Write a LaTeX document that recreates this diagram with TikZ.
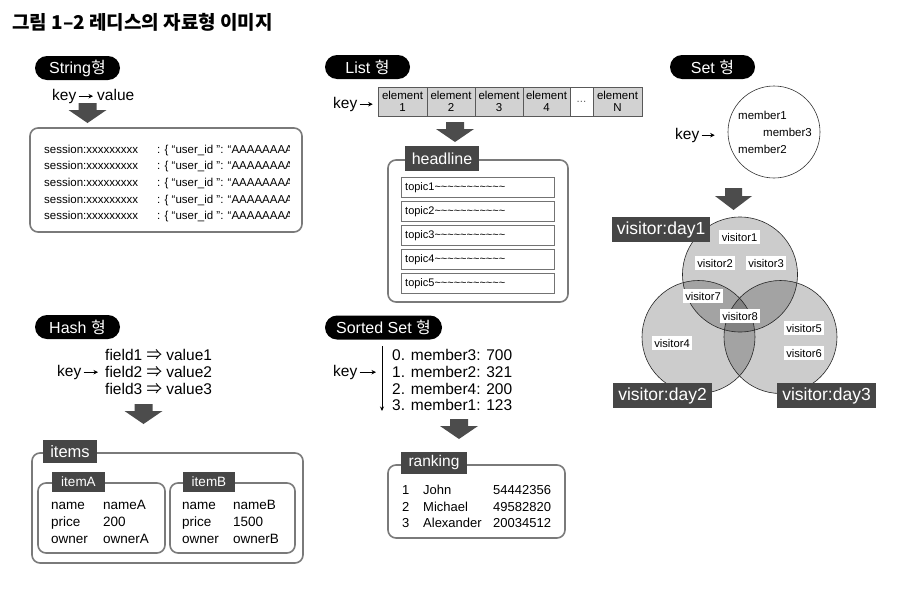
\documentclass[tikz,border=0pt]{standalone}
\usepackage{fontspec}
\setmainfont{Liberation Sans}
\newfontfamily\kr{Noto Sans CJK KR}
\usetikzlibrary{arrows.meta}
\definecolor{framegray}{HTML}{7A7A7A}
\definecolor{tagdark}{HTML}{464646}
\definecolor{elemgray}{HTML}{D2D2D2}
\definecolor{arrowgray}{HTML}{4C4C4C}
\newcommand\myfs[1]{\fontsize{#1}{#1}\selectfont}
\tikzset{
  pill/.style={fill=black, text=white, rounded corners=12pt, minimum height=24pt, inner sep=0pt, font=\myfs{16}},
  tagbox/.style={fill=tagdark, text=white, inner sep=0pt},
  frame/.style={draw=framegray, line width=1.6pt, rounded corners=8pt, inner sep=0pt},
  txt/.style={inner sep=0pt, text height=11.2pt, text depth=0pt, font=\myfs{15.5}},
  keyarrow/.style={line width=0.9pt, -{Stealth[length=4.5pt,width=4.5pt]}, transform canvas={yshift=-1.2pt}},
  elem/.style={draw=black!65, fill=elemgray, line width=0.6pt, minimum height=29pt, inner sep=0pt, align=center, font={\fontsize{11.5}{12.5}\selectfont}},
  topicbox/.style={draw=black!55, fill=white, line width=0.6pt, minimum width=153pt, minimum height=20pt, inner sep=0pt},
  small/.style={inner sep=0pt, text height=7.9pt, text depth=0pt, font=\myfs{11}},
  s115/.style={inner sep=0pt, text height=8.3pt, text depth=0pt, font=\myfs{11.5}},
  s135/.style={inner sep=0pt, text height=9.7pt, text depth=0pt, font=\myfs{13.5}},
  s13/.style={inner sep=0pt, text height=9.4pt, text depth=0pt, font=\myfs{13}},
  vlabel/.style={fill=white, inner xsep=2.5pt, inner ysep=3pt, text height=8pt, text depth=0pt, font=\myfs{11.2}},
  venn/.style={circle, fill=black, fill opacity=0.2, inner sep=0pt},
  downarr/.pic={\fill[arrowgray] (-9,0) -- (9,0) -- (9,7) -- (19,7) -- (0,20) -- (-19,7) -- (-9,7) -- cycle;}
}
\begin{document}
\begin{tikzpicture}[x=1pt,y=-1pt]
\useasboundingbox (0,0) rectangle (900,592);
\fill[white] (0,0) rectangle (900,592);

% title
\node[anchor=west, inner sep=0pt, font=\kr\bfseries\myfs{19}] (title) at (12,22) {그림 1–2 레디스의 자료형 이미지};

% ===== String =====
\node[pill, minimum width=85pt] (pstr) at (77.5,68) {String{\kr 형}};
\node[txt, anchor=west] (sk) at (52,95) {key};
\node[txt, anchor=west] (sv) at (97,95) {value};
\draw[keyarrow, shorten >=4pt, shorten <=2pt] (sk) -- (sv);
\pic at (87.5,103) {downarr};
\node[frame, minimum width=272pt, minimum height=104pt] (sbox) at (166,180) {};
\foreach \i in {0,...,4}{
  \node[s115, anchor=west] (ses\i) at (44,{149+16.7*\i}) {session:xxxxxxxxx};
}
\begin{scope}
  \clip (150,130) rectangle (289,230);
  \foreach \i in {0,...,4}{
    \node[s115, anchor=west] (val\i) at (157,{149+16.7*\i}) {: \{ “user\_id ”: “AAAAAAAA};
  }
\end{scope}

% ===== List =====
\node[pill, minimum width=85pt] (plist) at (367.5,67) {List {\kr 형}};
\node[txt, anchor=west] (lk) at (333,103) {key};
\node[elem, minimum width=49pt] (e1) at (402.5,101.5) {element\\1};
\node[elem, minimum width=48pt] (e2) at (451,101.5) {element\\2};
\node[elem, minimum width=48pt] (e3) at (499,101.5) {element\\3};
\node[elem, minimum width=47pt] (e4) at (546.5,101.5) {element\\4};
\node[elem, minimum width=23pt, fill=white, text=black!60] (e5) at (581.5,101.5) {...};
\node[elem, minimum width=49pt] (e6) at (617.5,101.5) {element\\N};
\draw[keyarrow, shorten >=5pt, shorten <=2pt] (lk) -- (lk -| e1.west);
\pic at (455,122) {downarr};
\node[frame, minimum width=180pt, minimum height=142pt] (hbox) at (478,231) {};
\node[tagbox, minimum width=74pt, minimum height=25pt, font=\myfs{16}] (htag) at (442,158.5) {headline};
\foreach \i in {1,...,5}{
  \node[topicbox] (t\i) at (477.5,{163+24*\i}) {};
  \node[small, anchor=west] (tt\i) at (405,{163+24*\i}) {topic\i\textasciitilde\textasciitilde\textasciitilde\textasciitilde\textasciitilde\textasciitilde\textasciitilde\textasciitilde\textasciitilde\textasciitilde\textasciitilde};
}

% ===== Set =====
\node[pill, minimum width=85pt] (pset) at (712.5,67) {Set {\kr 형}};
\node[circle, draw=black!80, line width=0.6pt, minimum size=92pt, inner sep=0pt] (setc) at (774,132) {};
\node[txt, anchor=west] (stk) at (675,134) {key};
\draw[keyarrow, shorten >=13pt, shorten <=2pt] (stk) -- (stk -| setc.west);
\node[s115, anchor=west] (m1) at (738,115) {member1};
\node[s115, anchor=west] (m3) at (763,132) {member3};
\node[s115, anchor=west] (m2) at (738,149) {member2};
\fill[arrowgray] (725,188) -- (742,188) -- (742,196) -- (752,196) -- (733.5,210) -- (715,196) -- (725,196) -- cycle;
\node[venn, minimum size=115pt] (d1) at (740,274.5) {};
\node[venn, minimum size=113pt] (d2) at (698.5,337) {};
\node[venn, minimum size=113pt] (d3) at (780.5,337) {};
\draw[black!85, line width=0.6pt] (d1.center) circle (57.5);
\draw[black!85, line width=0.6pt] (d2.center) circle (56.5);
\draw[black!85, line width=0.6pt] (d3.center) circle (56.5);
\node[tagbox, minimum width=98pt, minimum height=25pt, font=\myfs{17.5}] (day1) at (661,229.5) {visitor:day1};
\node[tagbox, minimum width=99pt, minimum height=25pt, font=\myfs{17.5}] (day2) at (662.5,395.5) {visitor:day2};
\node[tagbox, minimum width=99pt, minimum height=25pt, font=\myfs{17.5}] (day3) at (826.5,395.5) {visitor:day3};
\node[vlabel] (v1) at (739.5,237) {visitor1};
\node[vlabel] (v2) at (715,263) {visitor2};
\node[vlabel] (v3) at (766,263) {visitor3};
\node[vlabel] (v7) at (703,296) {visitor7};
\node[vlabel] (v8) at (740,316) {visitor8};
\node[vlabel] (v5) at (804,328) {visitor5};
\node[vlabel] (v6) at (804,353) {visitor6};
\node[vlabel] (v4) at (672,343) {visitor4};

% ===== Hash =====
\node[pill, minimum width=85pt] (phash) at (77.5,327) {Hash {\kr 형}};
\node[txt, anchor=west] (f1) at (105,355) {field1 {\kr ⇒} value1};
\node[txt, anchor=west] (f2) at (105,372) {field2 {\kr ⇒} value2};
\node[txt, anchor=west] (f3) at (105,388.5) {field3 {\kr ⇒} value3};
\node[txt, anchor=west] (hk) at (57,371) {key};
\draw[keyarrow, shorten >=7pt, shorten <=2pt] (hk) -- (hk -| f2.west);
\pic at (143.5,404) {downarr};
\node[frame, minimum width=271pt, minimum height=110pt] (ibox) at (167.5,508) {};
\node[tagbox, minimum width=54pt, minimum height=23pt, font=\myfs{16.5}] (itag) at (70,451.5) {items};
\node[frame, minimum width=127pt, minimum height=70pt] (abox) at (101.5,518) {};
\node[tagbox, minimum width=53pt, minimum height=20pt, font=\myfs{13.5}] (atag) at (78.5,482) {itemA};
\node[frame, minimum width=125pt, minimum height=70pt] (bbox) at (232.5,518) {};
\node[tagbox, minimum width=52pt, minimum height=20pt, font=\myfs{13.5}] (btag) at (209,482) {itemB};
\foreach \k/\a/\b [count=\j from 0] in {name/nameA/nameB, price/200/1500, owner/ownerA/ownerB}{
  \node[s135, anchor=west] (ak\j) at (51,{505+16.6*\j}) {\k};
  \node[s135, anchor=west] (av\j) at (103,{505+16.6*\j}) {\a};
  \node[s135, anchor=west] (bk\j) at (182,{505+16.6*\j}) {\k};
  \node[s135, anchor=west] (bv\j) at (233,{505+16.6*\j}) {\b};
}

% ===== Sorted Set =====
\node[pill, minimum width=117pt] (psort) at (383.5,327.5) {Sorted Set {\kr 형}};
\node[txt, anchor=west] (z0) at (392,355) {0. member3: 700};
\node[txt, anchor=west] (z1) at (392,372) {1. member2: 321};
\node[txt, anchor=west] (z2) at (392,388.5) {2. member4: 200};
\node[txt, anchor=west] (z3) at (392,405) {3. member1: 123};
\coordinate (ztop) at (382,346);
\coordinate (zbot) at (382,411);
\draw[line width=0.8pt, -{Stealth[length=4.5pt,width=4pt]}] (ztop) -- (zbot);
\node[txt, anchor=west] (zk) at (333,371) {key};
\draw[keyarrow, shorten >=6pt, shorten <=2pt] (zk) -- (zk -| ztop);
\pic at (459,419) {downarr};
\node[frame, minimum width=177pt, minimum height=73pt] (rbox) at (476.5,501.5) {};
\node[tagbox, minimum width=66pt, minimum height=22pt, font=\myfs{15.5}] (rtag) at (434,462.5) {ranking};
\foreach \n/\nm/\sc [count=\j from 0] in {1/John/54442356, 2/Michael/49582820, 3/Alexander/20034512}{
  \node[s13, anchor=west] (rn\j) at (402,{490+16.5*\j}) {\n};
  \node[s13, anchor=west] (rm\j) at (423,{490+16.5*\j}) {\nm};
  \node[s13, anchor=west] (rs\j) at (493,{490+16.5*\j}) {\sc};
}
\end{tikzpicture}
\end{document}
